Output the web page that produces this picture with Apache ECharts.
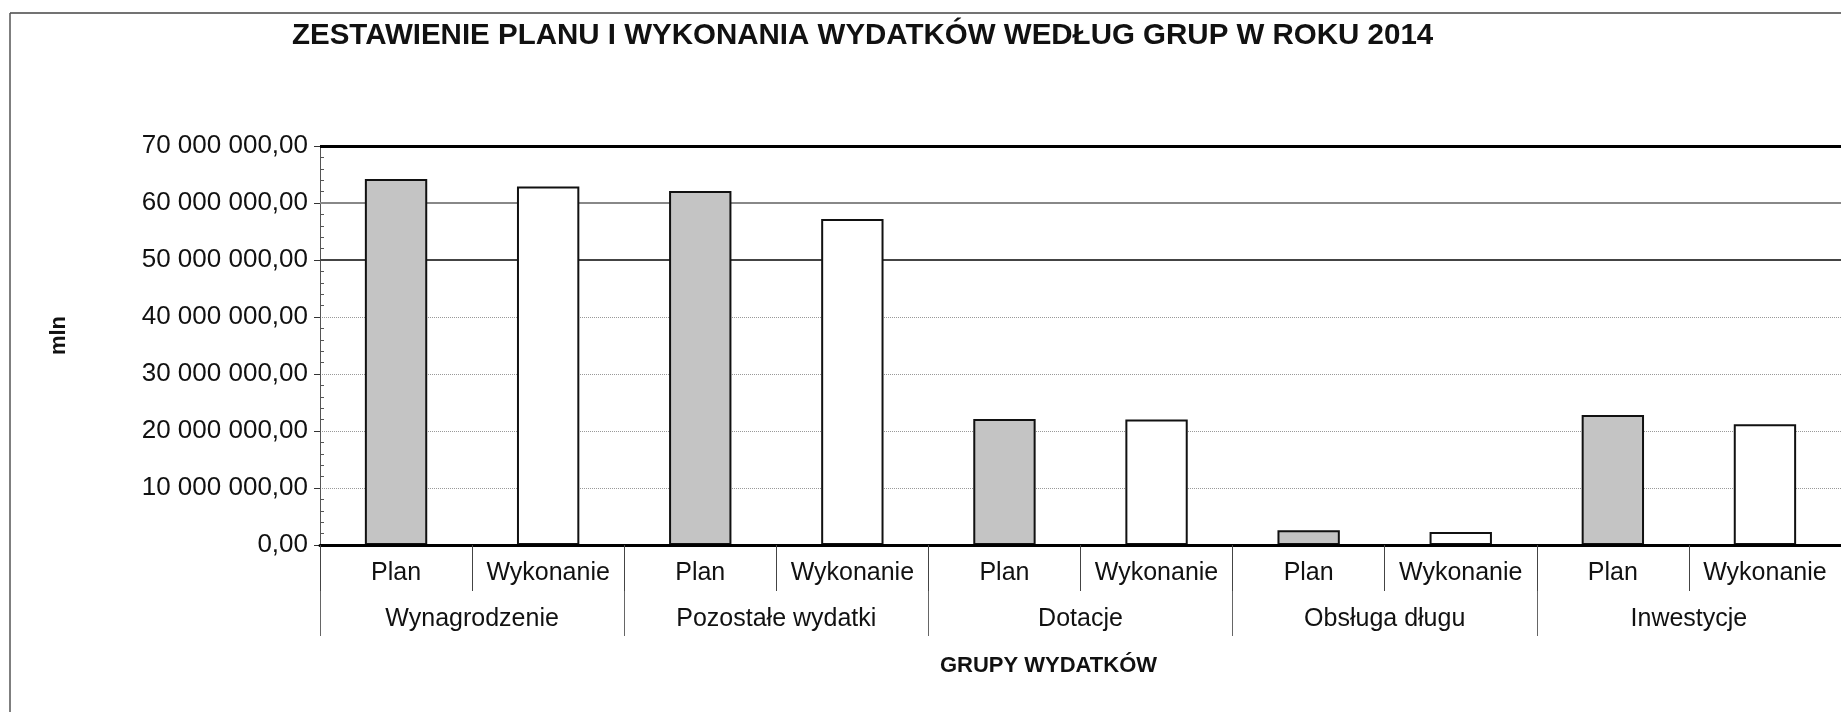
<!DOCTYPE html>
<html>
<head>
<meta charset="utf-8">
<script src="https://cdn.jsdelivr.net/npm/echarts@6/dist/echarts.min.js"></script>
<style>
html, body { margin: 0; padding: 0; background: #fff; }
#main { width: 1841px; height: 712px; }
</style>
</head>
<body>
<div id="main"></div>
<script>
// grupy wydatkow i podkategorie
const groups = ['Wynagrodzenie', 'Pozostałe wydatki', 'Dotacje', 'Obsługa długu', 'Inwestycje']
const subLabels = ['Plan', 'Wykonanie']
// wartosci w zl
const planValues = [64200000, 62100000, 22100000, 2600000, 22800000]
const wykonanieValues = [62900000, 57200000, 22000000, 2300000, 21200000]
const yTicks = [0, 10000000, 20000000, 30000000, 40000000, 50000000, 60000000, 70000000]

const font = 'Liberation Sans, Arial, sans-serif'

// 10 kategorii: Plan / Wykonanie dla kazdej grupy
const categories = []
const planData = []
const wykData = []
groups.forEach((g, i) => {
  categories.push(subLabels[0], subLabels[1])
  planData.push(planValues[i], '-')
  wykData.push('-', wykonanieValues[i])
})

function fmt(v) {
  return Math.round(v).toString().replace(/\B(?=(\d{3})+(?!\d))/g, ' ') + ',00'
}

const chart = echarts.init(document.getElementById('main'))
const option = {
  backgroundColor: '#fff',
  animation: false,
  title: {
    text: 'ZESTAWIENIE PLANU I WYKONANIA WYDATKÓW WEDŁUG GRUP W ROKU 2014',
    left: 287,
    top: 16,
    textStyle: { fontFamily: font, fontSize: 29.5, fontWeight: 'bold', color: '#111' },
  },
  graphic: [
    // ramka strony (gora i lewa strona)
    {
      type: 'line',
      shape: { x1: 10, y1: 13, x2: 1841, y2: 13 },
      style: { stroke: '#444', lineWidth: 1.5 },
      silent: true,
    },
    {
      type: 'line',
      shape: { x1: 10, y1: 13, x2: 10, y2: 712 },
      style: { stroke: '#555', lineWidth: 1.5 },
      silent: true,
    },
  ],
  grid: { left: 320, top: 146, right: -13, bottom: 167 },
  xAxis: [
    {
      type: 'category',
      data: categories,
      boundaryGap: true,
      axisLine: { show: true, lineStyle: { color: '#000', width: 3 } },
      axisTick: { show: true, interval: 0, length: 46, lineStyle: { color: '#444', width: 1 } },
      axisLabel: { interval: 0, margin: 16, fontFamily: font, fontSize: 25, color: '#111' },
      splitLine: { show: false },
      z: 3,
    },
    {
      type: 'category',
      data: groups,
      position: 'bottom',
      boundaryGap: true,
      axisLine: { show: false },
      axisTick: { show: true, interval: 0, length: 91, lineStyle: { color: '#666', width: 1 } },
      axisLabel: { interval: 0, margin: 62, fontFamily: font, fontSize: 25, color: '#111' },
      name: 'GRUPY WYDATKÓW',
      nameLocation: 'middle',
      nameGap: 110,
      nameTextStyle: {
        fontFamily: font, fontSize: 22, fontWeight: 'bold', color: '#111',
        padding: [0, 64, 0, 0],
      },
      splitLine: { show: false },
    },
  ],
  yAxis: [
    {
      type: 'value',
      min: yTicks[0],
      max: yTicks[yTicks.length - 1],
      interval: yTicks[1] - yTicks[0],
      name: 'mln',
      nameLocation: 'middle',
      nameRotate: 90,
      nameGap: 250,
      nameTextStyle: {
        fontFamily: font, fontSize: 22, fontWeight: 'bold', color: '#111',
        padding: [0, 0, 0, 20],
      },
      axisLine: { show: true, lineStyle: { color: '#555', width: 1 } },
      axisTick: { show: true, length: 6, lineStyle: { color: '#333' } },
      axisLabel: { margin: 12, fontFamily: font, fontSize: 26, color: '#111', formatter: fmt },
      splitLine: { show: true, lineStyle: { color: '#999', type: 'dotted', width: 1 } },
    },
    {
      // drobne kreski wewnatrz osi Y
      type: 'value',
      min: yTicks[0],
      max: yTicks[yTicks.length - 1],
      interval: yTicks[1] - yTicks[0],
      position: 'left',
      axisLine: { show: false },
      axisLabel: { show: false },
      axisTick: { show: false, inside: true },
      minorTick: { show: true, splitNumber: 5, length: 4, lineStyle: { color: '#555' } },
      splitLine: { show: false },
    },
  ],
  series: [
    {
      name: 'Plan',
      type: 'bar',
      data: planData,
      barWidth: '41%',
      barGap: '-100%',
      z: 2,
      itemStyle: { color: '#c4c4c4', borderColor: '#111', borderWidth: 2 },
      markLine: {
        silent: true,
        symbol: 'none',
        z: 1,
        label: { show: false },
        data: [
          { yAxis: yTicks[5], lineStyle: { color: '#444', width: 2, type: 'solid' } },
          { yAxis: yTicks[6], lineStyle: { color: '#888', width: 2, type: 'solid' } },
          { yAxis: yTicks[7], lineStyle: { color: '#000', width: 3, type: 'solid' } },
        ],
      },
    },
    {
      name: 'Wykonanie',
      type: 'bar',
      data: wykData,
      barWidth: '41%',
      barGap: '-100%',
      z: 2,
      itemStyle: { color: '#fff', borderColor: '#111', borderWidth: 2 },
    },
  ],
}
chart.setOption(option)
window.addEventListener('resize', () => {
  chart.resize()
})
</script>
</body>
</html>
